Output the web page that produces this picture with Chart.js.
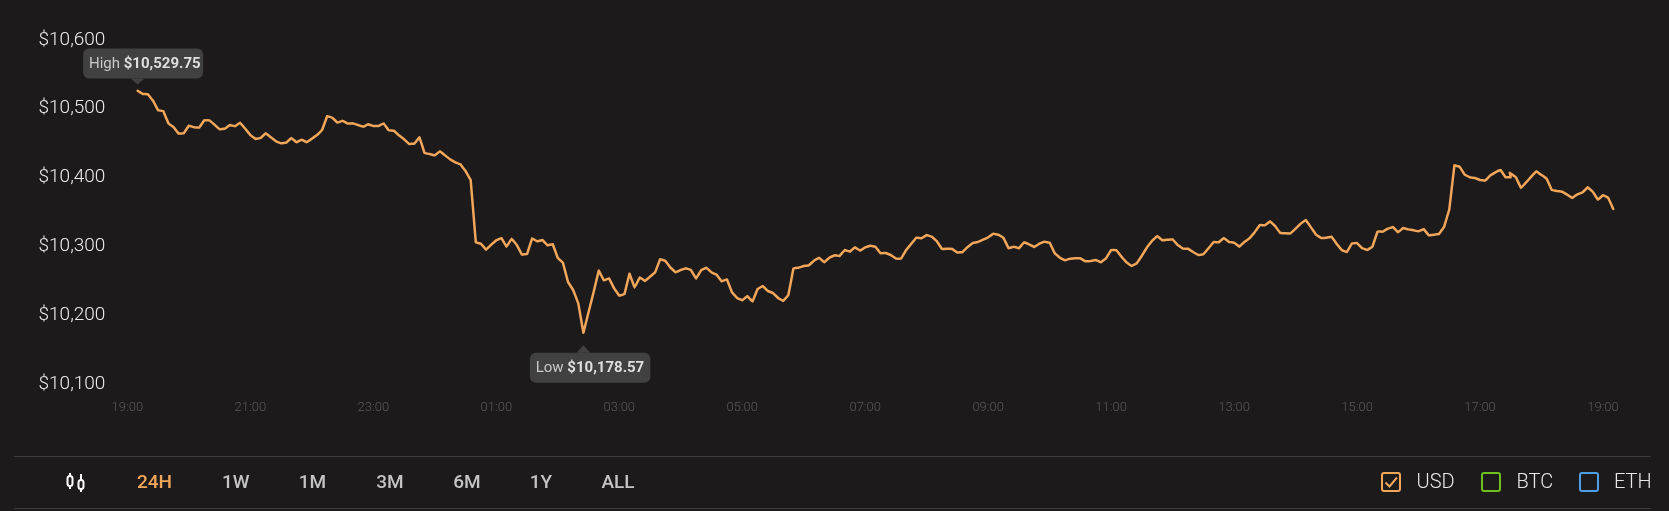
<!DOCTYPE html>
<html>
<head>
<meta charset="utf-8">
<script src="https://cdn.jsdelivr.net/npm/chart.js@4/dist/chart.umd.js"></script>
<style>
html,body{margin:0;padding:0;background:#1c1a1b;width:1669px;height:511px;overflow:hidden;font-family:Roboto,sans-serif}
#wrap{position:relative;width:1669px;height:511px}
canvas{position:absolute;left:0;top:0}
.rule{position:absolute;left:14px;width:1637px;height:1px;background:#3b3b3b}
.range{position:absolute;top:480.5px;transform:translate(-50%,-50%);font-size:19px;font-weight:500;color:#c4c4c4;white-space:nowrap}
.range.on{color:#f2a65a}
.box{position:absolute;top:472px;width:16px;height:16px;border:2px solid;border-radius:3px}
.cur{position:absolute;top:481px;transform:translateY(-50%);font-size:20px;font-weight:300;color:#e8e8e8;white-space:nowrap}
svg{position:absolute}
</style>
</head>
<body>
<div id="wrap">
<canvas id="c" width="1669" height="511"></canvas>
<div class="rule" style="top:456px"></div>
<div class="rule" style="top:508px"></div>
<svg style="left:65px;top:471px" width="22" height="22" viewBox="0 0 22 22" fill="none" stroke="#fff" stroke-width="2">
<rect x="2.5" y="5" width="5" height="10" rx="2.5"/><path d="M5 2v3M5 15v3"/>
<rect x="13.5" y="9" width="5" height="9" rx="2.5"/><path d="M16 3v6M16 18v3"/>
</svg>
<span class="range on" style="left:154.5px">24H</span>
<span class="range" style="left:235.7px">1W</span>
<span class="range" style="left:312.5px">1M</span>
<span class="range" style="left:390px">3M</span>
<span class="range" style="left:467px">6M</span>
<span class="range" style="left:541px">1Y</span>
<span class="range" style="left:618px">ALL</span>
<div class="box" style="left:1381px;border-color:#f2a65a"></div>
<svg style="left:1381px;top:472px" width="20" height="20" viewBox="0 0 20 20" fill="none" stroke="#f2a65a" stroke-width="2"><path d="M4.5 10.5l4 4 7.5-9"/></svg>
<span class="cur" style="left:1416.5px">USD</span>
<div class="box" style="left:1481px;border-color:#6ec01e"></div>
<span class="cur" style="left:1516.5px">BTC</span>
<div class="box" style="left:1579px;border-color:#4f9fe6"></div>
<span class="cur" style="left:1614px">ETH</span>
</div>
<script>
const yTicks = [10100,10200,10300,10400,10500,10600];
const tickHours = ["19:00","21:00","23:00","01:00","03:00","05:00","07:00","09:00","11:00","13:00","15:00","17:00","19:00"];
const highPrice = 10529.75;
const lowPrice = 10178.57;
const firstSampleMinute = 10;
const sampleStepMinutes = 5;
const latePrintMinute = 1349;
const latePrintPrice = 10410.8;
const latePrintIndex = 269;
const pricesEvening = [10529.75,10525,10524.5,10515.3,10501.3,10500.3,10482.4,10477,10467.4,10467.9,10479,10476.6,10476.1,10486.7,10486.7,10480.4,10473.7,10474.6,10480,10478,10483.4,10474.6,10465.4,10459.7,10461.1,10467.9,10462.1,10456.3,10453.4,10454.3,10461.1,10454.8,10458.7,10454.8,10460.1,10465.4,10472.7,10493,10490.6,10483.4,10486.3,10482];
const pricesDrop = [10482.4,10480,10477.5,10480.9,10478.5,10478.5,10482.4,10472.2,10471.7,10465,10459.2,10452.4,10452.9,10462.1,10439.3,10437.9,10435.9,10441.8,10435.9,10430.1,10425.8,10422.9,10413.2,10400.1,10309.7,10307.7,10299,10306.3,10312.6,10315.9,10303.4,10315,10305.8,10291.8,10292.7,10315.5,10311.1,10313.1,10305.3,10307.3,10287,10280.2,10252.1];
const pricesLow = [10240.5,10221.1,10178.57,10208.1,10237.6,10268.6,10254.5,10257.4,10242.9,10232.3,10234.2,10264.2,10243.9,10258.9,10253.6,10259.8,10266.1,10285.5,10282.6,10272.9,10266.1,10269.5,10271.9,10269.5,10256.9,10269.5,10272.9,10266.1,10262.7,10253.1,10256,10237.1,10228.9,10225.5,10231.8,10223.6,10241.9,10246.3,10239,10236.1,10228.9,10224.5,10233.2];
const pricesMorning = [10271.9,10272.9,10275.3,10276.3,10283.1,10287.4,10280.6,10287.4,10290.8,10289.8,10298.5,10296.1,10302.4,10297.6,10302.4,10304.8,10303.4,10293.7,10294.2,10291.3,10286,10286,10298.5,10307.7,10316.4,10315.5,10320.3,10317.9,10311.1,10300,10300.5,10300,10294.7,10295.6,10302.9,10308.7,10310.2,10313.5,10316.9,10322.2,10320.8,10316,10301];
const pricesMidday = [10303.4,10301,10309.7,10306.8,10302.9,10307.7,10310.6,10309.2,10293.7,10287.4,10283.5,10286,10286.5,10286.5,10282.1,10282.6,10284,10280.6,10286.5,10298.5,10298.5,10288.9,10280.6,10275.3,10279.2,10290.3,10302.4,10312.1,10318.9,10312.6,10313.5,10314,10305.8,10300.5,10300.5,10295.6,10291.3,10292.3,10301,10310.2,10309.7,10316,10310.2];
const pricesAfternoon = [10309.2,10303.4,10310.1,10315.5,10324.2,10334.8,10334.3,10340.1,10333.4,10323.2,10322.7,10322.7,10329.5,10336.8,10342.1,10331.4,10320.8,10316,10316.4,10317.9,10307.7,10298.5,10295.6,10308.2,10308.7,10301,10298.5,10303.4,10325.6,10325.1,10329.5,10331.9,10324.2,10330.5,10328.5,10327.1,10325.6,10329,10319.8];
const pricesLate = [10320.8,10321.8,10332.4,10357.6,10421.4,10419.5,10407.9,10404,10403,10400.1,10399.2,10406.9,10411.3,10414.7,10404,10404,10404,10388.5,10396.7,10405,10412.7,10407.4,10402.1,10385.6,10384.2,10383.2,10378.9,10374,10379.3,10382.2,10389.5,10383.2,10371.6,10377.9,10374.5,10358];

const prices = [...pricesEvening,...pricesDrop,...pricesLow,...pricesMorning,...pricesMidday,...pricesAfternoon,...pricesLate];
const points = prices.map((p,i)=>({x:firstSampleMinute+sampleStepMinutes*i,y:p}));
points.splice(latePrintIndex,0,{x:latePrintMinute,y:latePrintPrice});

const money = v => '$' + v.toLocaleString('en-US',{minimumFractionDigits:2,maximumFractionDigits:2});

const callouts = {
  id:'callouts',
  afterDatasetsDraw(chart){
    const {ctx,scales:{x,y}} = chart;
    const draw = (label,value,above) => {
      const pt = points.find(p=>p.y===value);
      const px = x.getPixelForValue(pt.x), py = y.getPixelForValue(pt.y);
      const w = above ? 120 : 120.5, h = 30;
      const left = px - (above ? 54.5 : 53.5);
      const top = above ? py - 42.2 : py + 20;
      const tipY = above ? py - 6.2 : py + 12.5;
      const baseY = above ? top + h : top;
      ctx.save();
      ctx.fillStyle = '#414141';
      ctx.beginPath();
      ctx.roundRect(left,top,w,h,6);
      ctx.fill();
      ctx.beginPath();
      ctx.moveTo(px-7,baseY);ctx.lineTo(px,tipY);ctx.lineTo(px+7,baseY);ctx.closePath();
      ctx.fill();
      ctx.textBaseline = 'middle';
      ctx.textAlign = 'left';
      ctx.font = '400 15px Roboto';
      ctx.fillStyle = '#c9c9c9';
      const tx = left + 5.8, ty = top + h/2 + 0.5;
      ctx.fillText(label,tx,ty);
      const lw = ctx.measureText(label+' ').width;
      ctx.font = '700 15px Roboto';
      ctx.fillStyle = '#dedede';
      ctx.fillText(money(value),tx+lw,ty);
      ctx.restore();
    };
    draw('High',highPrice,true);
    draw('Low',lowPrice,false);
  }
};

new Chart(document.getElementById('c'),{
  type:'line',
  data:{datasets:[{data:points,borderColor:'#f2a65a',borderWidth:2.5,pointRadius:0,tension:0.01,borderJoinStyle:'round',borderCapStyle:'round',fill:false}]},
  options:{
    responsive:false,animation:false,
    layout:{padding:{top:42.3,right:49.6,left:0,bottom:0}},
    plugins:{legend:{display:false},tooltip:{enabled:false}},
    scales:{
      x:{type:'linear',min:0,max:1456,
        border:{display:false},grid:{display:false},
        afterFit(s){s.height=124.2;},
        ticks:{stepSize:120,includeBounds:false,autoSkip:false,maxRotation:0,padding:5,color:'#5a5a5a',
          font:{family:'Roboto',size:13,weight:'300'},
          callback(v){return tickHours[v/120];}}},
      y:{min:yTicks[0],max:yTicks[yTicks.length-1],
        border:{display:false},grid:{display:false},
        afterFit(s){s.width=127.4;},
        afterBuildTicks(s){s.ticks=yTicks.map(v=>({value:v}));},
        ticks:{padding:14,color:'#ececec',
          font:{family:'Roboto',size:19,weight:'300',lineHeight:5/19},
          callback(v){return ['$'+v.toLocaleString('en-US'),''];}}}
    }
  },
  plugins:[callouts]
});
</script>
</body>
</html>
